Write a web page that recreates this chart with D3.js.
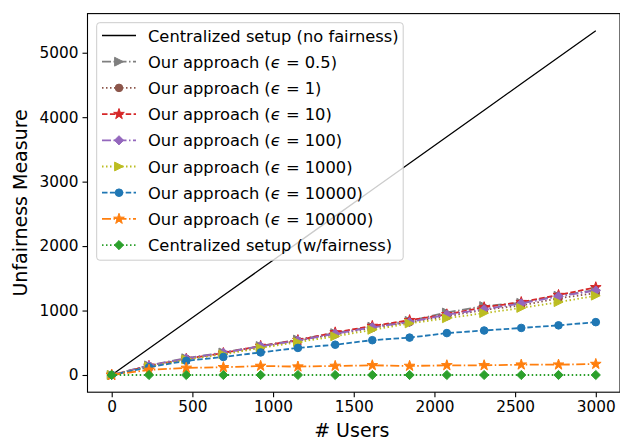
<!DOCTYPE html>
<meta charset="utf-8">
<script src="https://d3js.org/d3.v7.min.js"></script>
<style>
  body { margin: 0; background: white; }
  svg text { font-family: "DejaVu Sans", sans-serif; fill: #000; }
</style>
<body>
<div id="chart"></div>
<script>
// data
var users = [0, 231, 462, 692, 923, 1154, 1385, 1615, 1846, 2077, 2308, 2538, 2769, 3000];
var central = [0, 411, 822, 1232, 1643, 2054, 2465, 2875, 3286, 3697, 4108, 4518, 4929, 5340];
var eps05 = [0, 150, 260, 350, 450, 550, 650, 750, 840, 970, 1070, 1120, 1230, 1320];
var eps1 = [0, 140, 250, 330, 430, 530, 630, 730, 820, 910, 1010, 1080, 1190, 1270];
var eps10 = [0, 140, 250, 340, 450, 540, 660, 760, 850, 940, 1050, 1130, 1240, 1360];
var eps100 = [0, 145, 255, 345, 445, 535, 640, 740, 820, 935, 1020, 1110, 1220, 1310];
var eps1000 = [0, 130, 240, 320, 420, 510, 600, 700, 800, 880, 960, 1040, 1130, 1230];
var eps10000 = [0, 120, 220, 280, 350, 420, 470, 540, 580, 650, 690, 730, 770, 820];
var eps100000 = [0, 80, 110, 120, 140, 130, 140, 150, 140, 150, 150, 160, 160, 170];
var fair = [0, 0, 0, 0, 0, 0, 0, 0, 0, 0, 0, 0, 0, 0];
var xTicks = [0, 500, 1000, 1500, 2000, 2500, 3000];
var yTicks = [0, 1000, 2000, 3000, 4000, 5000];

// label parts: [before epsilon, after epsilon]
var series = [
  {name: ["Centralized setup (no fairness)"], values: central, color: "#000000", dash: null, marker: null, lw: 1.3},
  {name: ["Our approach (", " = 0.5)"], values: eps05, color: "#7f7f7f", dash: "9,2.5,1.5,2.5", marker: "tri"},
  {name: ["Our approach (", " = 1)"], values: eps1, color: "#8c564b", dash: "1.5,2.5", marker: "circle"},
  {name: ["Our approach (", " = 10)"], values: eps10, color: "#d62728", dash: "5.5,2.4", marker: "star"},
  {name: ["Our approach (", " = 100)"], values: eps100, color: "#9467bd", dash: "9,2.5,1.5,2.5", marker: "diamond"},
  {name: ["Our approach (", " = 1000)"], values: eps1000, color: "#bcbd22", dash: "1.5,2.5", marker: "tri"},
  {name: ["Our approach (", " = 10000)"], values: eps10000, color: "#1f77b4", dash: "5.5,2.4", marker: "circle"},
  {name: ["Our approach (", " = 100000)"], values: eps100000, color: "#ff7f0e", dash: "9,2.5,1.5,2.5", marker: "star"},
  {name: ["Centralized setup (w/fairness)"], values: fair, color: "#2ca02c", dash: "1.5,2.5", marker: "diamond"}
];

var W = 620, H = 440;
var pl = 87.5, pr = 620, pt = 13.6, pb = 392.2;

var svg = d3.select("#chart").append("svg")
  .attr("width", W).attr("height", H);

var x = d3.scaleLinear().domain([-150, 3150]).range([pl, pr]);
var y = d3.scaleLinear().domain([-267, 5607]).range([pb, pt]);

function markerPath(type) {
  var p = d3.path();
  if (type == "circle") {
    p.arc(0, 0, 3.8, 0, 2 * Math.PI);
  } else if (type == "star") {
    var R = 5.6, r = R * 0.39;
    for (var i = 0; i < 10; i++) {
      var a = -Math.PI / 2 + i * Math.PI / 5;
      var rr = i % 2 ? r : R;
      if (i == 0) p.moveTo(rr * Math.cos(a), rr * Math.sin(a));
      else p.lineTo(rr * Math.cos(a), rr * Math.sin(a));
    }
    p.closePath();
  } else if (type == "diamond") {
    var d = 4.6;
    p.moveTo(0, -d); p.lineTo(d, 0); p.lineTo(0, d); p.lineTo(-d, 0); p.closePath();
  } else if (type == "tri") {
    var t = 4.4;
    p.moveTo(t, 0); p.lineTo(-t, t); p.lineTo(-t, -t); p.closePath();
  }
  return p.toString();
}

var plot = svg.append("g");
var line = d3.line()
  .x(function(d, i) { return x(users[i]); })
  .y(function(d) { return y(d); });

series.forEach(function(s) {
  plot.append("path")
    .attr("d", line(s.values))
    .attr("fill", "none")
    .attr("stroke", s.color)
    .attr("stroke-width", s.lw || 1.8)
    .attr("stroke-dasharray", s.dash);
  if (s.marker) {
    plot.selectAll(null)
      .data(s.values)
      .enter()
      .append("path")
        .attr("d", markerPath(s.marker))
        .attr("transform", function(d, i) { return "translate(" + x(users[i]) + "," + y(d) + ")"; })
        .attr("fill", s.color)
        .attr("stroke", s.color)
        .attr("stroke-width", 1);
  }
});

// axes
var xAxis = svg.append("g")
  .attr("transform", "translate(0," + pb + ")")
  .call(d3.axisBottom(x).tickValues(xTicks).tickFormat(d3.format("d")).tickSize(5).tickPadding(4).tickSizeOuter(0));
var yAxis = svg.append("g")
  .attr("transform", "translate(" + pl + ",0)")
  .call(d3.axisLeft(y).tickValues(yTicks).tickFormat(d3.format("d")).tickSize(5).tickPadding(4).tickSizeOuter(0));
[xAxis, yAxis].forEach(function(a) {
  a.select(".domain").remove();
  a.selectAll("line").attr("stroke", "#000").attr("stroke-width", 1.1);
  a.selectAll("text").style("font-size", "15.3px").style("font-family", "DejaVu Sans").attr("fill", "#000");
});

svg.append("rect")
  .attr("x", pl).attr("y", pt)
  .attr("width", pr - pl).attr("height", pb - pt)
  .attr("fill", "none").attr("stroke", "#000").attr("stroke-width", 1.1);

svg.append("text")
  .attr("x", (pl + 620) / 2 - 2).attr("y", 437)
  .attr("text-anchor", "middle")
  .style("font-size", "19px")
  .text("# Users");

svg.append("text")
  .attr("transform", "translate(27," + (pt + pb) / 2 + ") rotate(-90)")
  .attr("text-anchor", "middle")
  .style("font-size", "19px")
  .text("Unfairness Measure");

// legend
var lg = svg.append("g");
lg.append("rect")
  .attr("x", 96.7).attr("y", 22.7)
  .attr("width", 306.5).attr("height", 237.5)
  .attr("rx", 3)
  .attr("fill", "white").attr("fill-opacity", 0.8)
  .attr("stroke", "#cccccc").attr("stroke-width", 1);

var rows = lg.selectAll("g.row")
  .data(series)
  .enter()
  .append("g")
    .attr("transform", function(d, i) { return "translate(0," + (35.5 + i * 26.2) + ")"; });

rows.append("line")
  .attr("x1", 102).attr("x2", 136)
  .attr("stroke", function(d) { return d.color; })
  .attr("stroke-width", function(d) { return d.lw || 1.8; })
  .attr("stroke-dasharray", function(d) { return d.dash; });

rows.filter(function(d) { return d.marker; })
  .append("path")
    .attr("transform", "translate(119,0)")
    .attr("d", function(d) { return markerPath(d.marker); })
    .attr("fill", function(d) { return d.color; })
    .attr("stroke", function(d) { return d.color; })
    .attr("stroke-width", 1);

var labels = rows.append("text")
  .attr("x", 148).attr("y", 6)
  .style("font-size", "16.3px");
labels.append("tspan").text(function(d) { return d.name[0]; });
labels.filter(function(d) { return d.name.length > 1; })
  .append("tspan").style("font-style", "italic").text("ϵ");
labels.filter(function(d) { return d.name.length > 1; })
  .append("tspan").text(function(d) { return d.name[1]; });
</script>
</body>
